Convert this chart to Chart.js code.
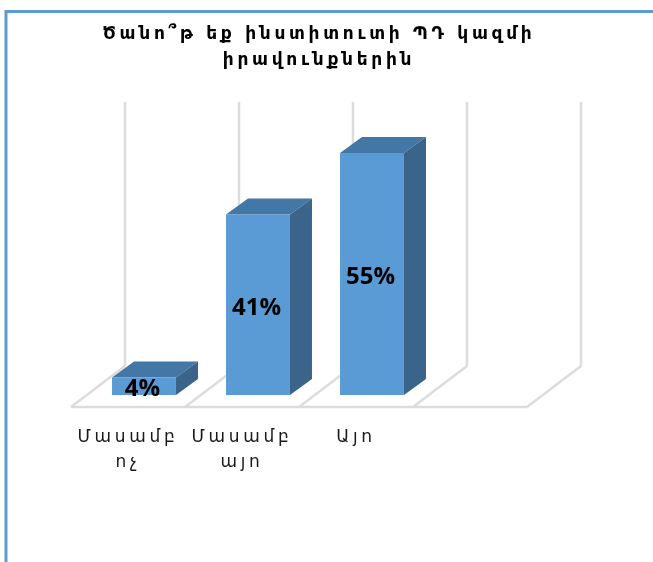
<!DOCTYPE html>
<html><head><meta charset="utf-8">
<style>html,body{margin:0;padding:0;background:#fff}canvas{display:block}</style>
<script src="https://cdn.jsdelivr.net/npm/chart.js@4"></script>
</head><body>
<canvas id="c" width="653" height="562"></canvas>
<script>
const titleLines = ["Ծանո՞թ եք ինստիտուտի ՊԴ կազմի", "իրավունքներին"];
const categories = [["Մասամբ","ոչ"], ["Մասամբ","այո"], ["Այո"], ""];
const percentValues = [4, 41, 55, null];
const axisMax = 60;

const wallColor = "#dcdcdc", frontColor = "#5b9bd5", topColor = "#4377a6", sideColor = "#3a6489";
const barDepth = {x: 22, y: -16}, wallBack = {x: 38, y: -29}, floorFront = {x: -16, y: 12};
const fontFamily = '"DejaVu Sans", sans-serif';

function poly(ctx, pts, fill){
  ctx.beginPath();
  pts.forEach((p,i)=> i ? ctx.lineTo(p[0],p[1]) : ctx.moveTo(p[0],p[1]));
  ctx.closePath(); ctx.fillStyle = fill; ctx.fill();
}
function line(ctx, x1,y1,x2,y2){ ctx.beginPath(); ctx.moveTo(x1,y1); ctx.lineTo(x2,y2); ctx.stroke(); }

const scene3d = {
  id: "scene3d",
  beforeDraw(chart){
    const ctx = chart.ctx;
    ctx.letterSpacing = "3.7px";
    ctx.save();
    ctx.strokeStyle = frontColor; ctx.lineWidth = 3;
    ctx.beginPath(); ctx.moveTo(6,562); ctx.lineTo(6,11.5); ctx.lineTo(653,11.5); ctx.stroke();
    ctx.restore();
  },
  beforeDatasetsDraw(chart){
    const ctx = chart.ctx, xs = chart.scales.x, ys = chart.scales.y;
    const base = ys.getPixelForValue(0), top = ys.getPixelForValue(axisMax);
    const step = xs.getPixelForValue(1) - xs.getPixelForValue(0);
    const n = categories.length, left = xs.getPixelForValue(0) - step/2;
    ctx.save();
    ctx.strokeStyle = wallColor; ctx.lineWidth = 2.5;
    for (let i = 0; i <= n; i++){
      const bx = left + i*step + wallBack.x, fx = left + i*step + floorFront.x;
      line(ctx, bx, top + wallBack.y, bx, base + wallBack.y);
      line(ctx, bx, base + wallBack.y, fx, base + floorFront.y);
    }
    line(ctx, left + floorFront.x, base + floorFront.y, left + n*step + floorFront.x, base + floorFront.y);
    chart.getDatasetMeta(0).data.forEach((b,i)=>{
      if (percentValues[i] == null) return;
      const hw = b.width/2, x0 = b.x-hw, x1 = b.x+hw, y = b.y, y0 = b.base;
      poly(ctx, [[x0,y],[x1,y],[x1+barDepth.x,y+barDepth.y],[x0+barDepth.x,y+barDepth.y]], topColor);
      poly(ctx, [[x1,y],[x1,y0],[x1+barDepth.x,y0+barDepth.y],[x1+barDepth.x,y+barDepth.y]], sideColor);
    });
    ctx.restore();
  },
  afterDatasetsDraw(chart){
    const ctx = chart.ctx;
    ctx.save();
    ctx.letterSpacing = "0px";
    ctx.font = 'bold 24px "Open Sans", sans-serif';
    ctx.fillStyle = "#000"; ctx.textAlign = "center"; ctx.textBaseline = "middle";
    chart.getDatasetMeta(0).data.forEach((b,i)=>{
      if (percentValues[i] == null) return;
      ctx.fillText(percentValues[i] + "%", b.x - 1.5, (b.y + b.base)/2 + 3);
    });
    ctx.restore();
  }
};

new Chart(document.getElementById("c"), {
  type: "bar",
  plugins: [scene3d],
  data: { labels: categories, datasets: [{ data: percentValues, backgroundColor: frontColor, borderWidth: 0, barPercentage: 1, categoryPercentage: 0.561 }] },
  options: {
    responsive: false, animation: false,
    layout: { padding: { left: 0, right: 15, top: 0, bottom: 0 } },
    plugins: {
      legend: { display: false }, tooltip: { enabled: false },
      title: { display: true, text: titleLines, color: "#000", font: { family: fontFamily, size: 17, weight: "bold", lineHeight: 1.53 }, padding: { top: 22, bottom: 57 } }
    },
    scales: {
      x: {
        grid: { display: false }, border: { display: false },
        afterFit(s){ s.height = 167; },
        ticks: { autoSkip: false, maxRotation: 0, minRotation: 0, labelOffset: -16, padding: 22, color: "#1a1a1a", font: { family: fontFamily, size: 17, lineHeight: 1.47 } }
      },
      y: {
        min: 0, max: axisMax, position: "left",
        grid: { display: false }, border: { display: false },
        ticks: { display: false },
        afterFit(s){ s.width = 87; }
      },
      yPad: {
        position: "right", min: 0, max: axisMax,
        grid: { display: false }, border: { display: false },
        ticks: { display: false },
        afterFit(s){ s.width = 95; }
      }
    }
  }
});
</script>
</body></html>
